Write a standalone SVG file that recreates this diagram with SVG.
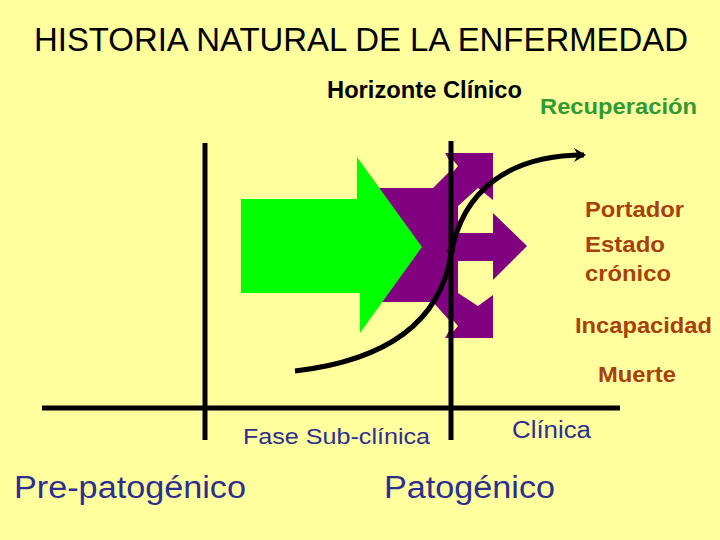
<svg xmlns="http://www.w3.org/2000/svg" width="720" height="540" viewBox="0 0 720 540">
<defs>
<style>
.t{font-family:"Liberation Sans",Arial,sans-serif;}
.brown{fill:#A8400C;font-size:22px;font-weight:bold;}
.navy{fill:#2E2E8E;}
.ln{stroke:#000;stroke-width:5;fill:none;}
.hole{fill:#FFFF9E;}
</style>
<marker id="ah" markerUnits="userSpaceOnUse" markerWidth="20" markerHeight="20" refX="10" refY="8" orient="auto">
<path d="M0,1 L12,8 L0,15 L4,8 Z" fill="#000"/>
</marker>
</defs>
<rect width="720" height="540" fill="#FFFF9E"/>

<g id="title"><text class="t" x="34" y="51" font-size="33" textLength="654" lengthAdjust="spacingAndGlyphs">HISTORIA NATURAL DE LA ENFERMEDAD</text></g>
<g id="horizonte"><text class="t" x="327" y="98" font-size="23" font-weight="bold" textLength="195" lengthAdjust="spacingAndGlyphs">Horizonte Clínico</text></g>
<g id="recuperacion"><text class="t" x="540" y="114" font-size="22" font-weight="bold" fill="#339933" textLength="157" lengthAdjust="spacingAndGlyphs">Recuperación</text></g>

<g id="purple-arrows">
<polygon fill="#800080" points="370,188 433,188 449,172 449,160 445,153 493,153 493,213 527,246 493,280 493,338 445,338 449,331 449,320 433,302 370,302"/>
<polygon class="hole" points="458,233 458,206 478,188 493,200 493,233"/>
<polygon class="hole" points="458,261 493,261 493,295 478,306 458,293"/>
<polygon class="hole" points="453,160 458,166 453,172"/>
<polygon class="hole" points="453,320 458,326 453,332"/>
</g>

<g id="green-arrow">
<polygon fill="#00FF00" points="241,199 357,199 357,157 422,247 360,333 360,293 241,293"/>
</g>

<g id="connectors">
<line class="ln" x1="205" y1="143" x2="205" y2="440"/>
<line class="ln" x1="451" y1="141" x2="451" y2="440"/>
<line class="ln" x1="42" y1="408" x2="620" y2="408"/>
<path class="ln" d="M295,371 C390,360 440,320 451,255 C462,190 510,155 584,155" marker-end="url(#ah)"/>
<polygon fill="#000" points="446,249 451,259 456,249 451,253"/>
</g>

<g id="portador"><text class="t brown" x="585" y="217" textLength="99" lengthAdjust="spacingAndGlyphs">Portador</text></g>
<g id="estado"><text class="t brown" x="585" y="252" textLength="80" lengthAdjust="spacingAndGlyphs">Estado</text>
<text class="t brown" x="585" y="281" textLength="86" lengthAdjust="spacingAndGlyphs">crónico</text></g>
<g id="incapacidad"><text class="t brown" x="575" y="333" textLength="137" lengthAdjust="spacingAndGlyphs">Incapacidad</text></g>
<g id="muerte"><text class="t brown" x="598" y="382" textLength="78" lengthAdjust="spacingAndGlyphs">Muerte</text></g>

<g id="fase-subclinica"><text class="t navy" x="243" y="444" font-size="22" textLength="187" lengthAdjust="spacingAndGlyphs">Fase Sub-clínica</text></g>
<g id="clinica"><text class="t navy" x="512" y="438" font-size="23" textLength="79" lengthAdjust="spacingAndGlyphs">Clínica</text></g>
<g id="prepatogenico"><text class="t navy" x="14" y="498" font-size="31" textLength="232" lengthAdjust="spacingAndGlyphs">Pre-patogénico</text></g>
<g id="patogenico"><text class="t navy" x="384" y="498" font-size="31" textLength="171" lengthAdjust="spacingAndGlyphs">Patogénico</text></g>
</svg>
